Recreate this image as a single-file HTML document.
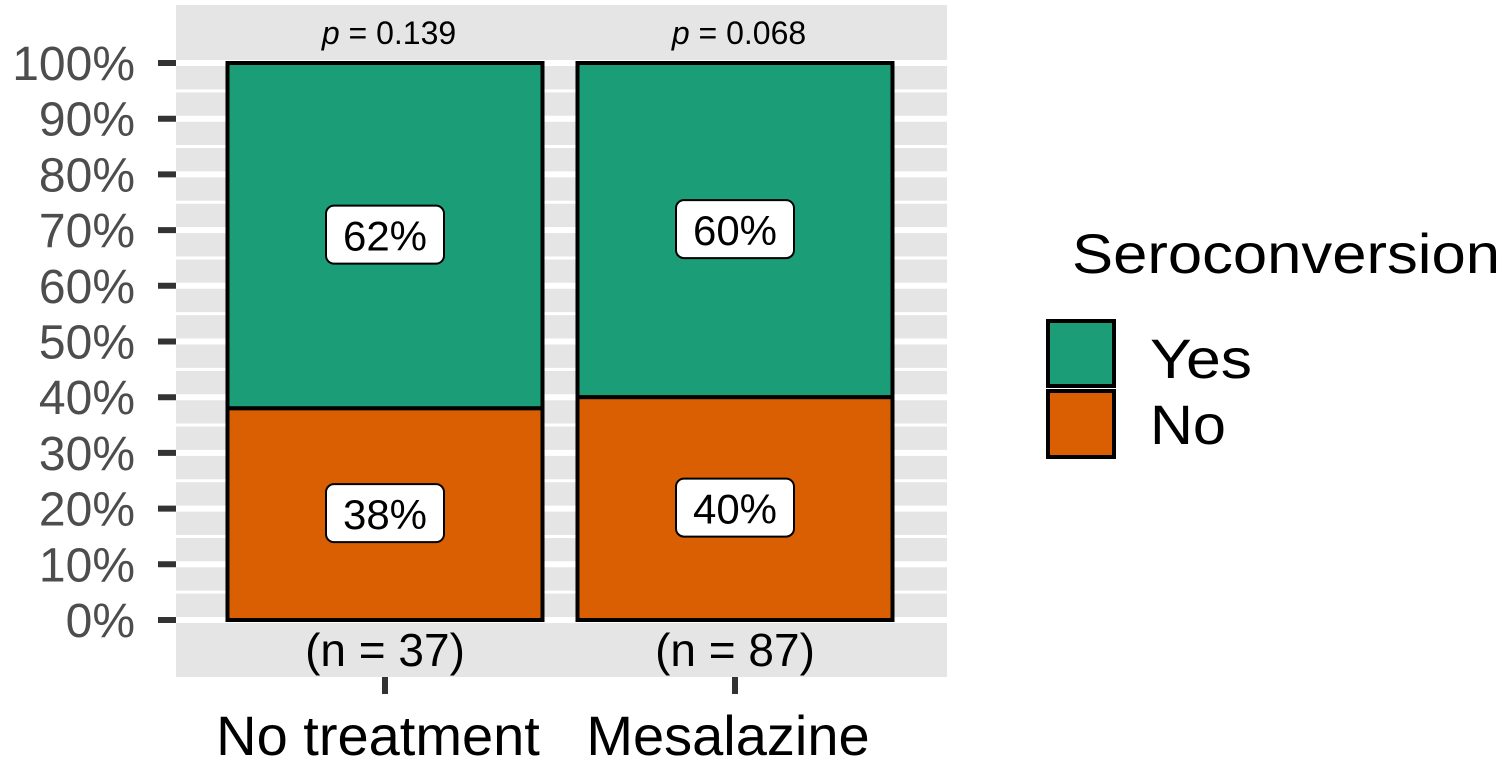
<!DOCTYPE html>
<html><head><meta charset="utf-8"><style>
body{margin:0;background:#fff;}
svg text{font-family:"Liberation Sans",sans-serif;}
</style></head><body>
<svg id="chart" width="1508" height="767">
<rect x="176" y="5" width="771" height="672" fill="#e5e5e5"/>
<g id="grid"></g><g id="yaxis"></g><g id="bars"></g><g id="xaxis"></g>
<g>
<text x="1072" y="273" font-size="56" textLength="428" lengthAdjust="spacingAndGlyphs" fill="#000">Seroconversion</text>
<rect x="1048" y="321" width="66" height="65" fill="#1b9e77" stroke="#000" stroke-width="4"/>
<rect x="1048" y="391" width="66" height="66" fill="#d95f02" stroke="#000" stroke-width="4"/>
<text x="1150" y="378" font-size="56" textLength="102" lengthAdjust="spacingAndGlyphs">Yes</text>
<text x="1150" y="444" font-size="56" textLength="76" lengthAdjust="spacingAndGlyphs">No</text>
</g>
</svg>
<script>
const categories=["No treatment","Mesalazine"];
const yesPct=[62,60];
const noPct=[38,40];
const nCounts=[37,87];
const pValues=["0.139","0.068"];
const yTicks=[0,10,20,30,40,50,60,70,80,90,100];
const NS="http://www.w3.org/2000/svg";
const y=v=>620-v*5.57;
const xc=i=>385+i*350;
const bw=315;
function mk(t,a,p){const e=document.createElementNS(NS,t);for(const k in a)e.setAttribute(k,a[k]);p.appendChild(e);return e;}
const grid=document.getElementById('grid'),ya=document.getElementById('yaxis'),bars=document.getElementById('bars'),xa=document.getElementById('xaxis');
for(let v=0;v<=100;v+=5){const l=mk('line',{x1:176,x2:947,y1:y(v),y2:y(v),stroke:'#fff','stroke-width':v%10?3:6},grid);

}
yTicks.forEach(v=>{const t=mk('line',{x1:158,x2:176,y1:y(v),y2:y(v),stroke:'#333','stroke-width':6},ya);


const tx=mk('text',{x:135,y:y(v)+17,'font-size':48,'text-anchor':'end',fill:'#4d4d4d'},ya);tx.textContent=v+'%';

});
categories.forEach((c,i)=>{const x0=xc(i)-bw/2;
const r1=mk('rect',{x:x0,y:y(100),width:bw,height:y(noPct[i])-y(100),fill:'#1b9e77',stroke:'#000','stroke-width':4},bars);


const r2=mk('rect',{x:x0,y:y(noPct[i]),width:bw,height:y(0)-y(noPct[i]),fill:'#d95f02',stroke:'#000','stroke-width':4},bars);


[[yesPct[i],(y(100)+y(noPct[i]))/2],[noPct[i],(y(noPct[i])+y(0))/2]].forEach(([val,cy])=>{
const b=mk('rect',{x:xc(i)-59,y:cy-30,width:118,height:58,rx:8,fill:'#fff',stroke:'#000','stroke-width':2},bars);


const t=mk('text',{x:xc(i),y:cy+15,'font-size':42,'text-anchor':'middle'},bars);t.textContent=val+'%';

});
const p=mk('text',{x:xc(i)+4,y:44,'font-size':32,'text-anchor':'middle'},bars);p.innerHTML='<tspan font-style="italic">p</tspan> = '+pValues[i];


const n=mk('text',{x:xc(i),y:666,'font-size':46,'text-anchor':'middle'},bars);n.textContent='(n = '+nCounts[i]+')';


const tk=mk('line',{x1:xc(i),x2:xc(i),y1:677,y2:694,stroke:'#333','stroke-width':6},xa);


const xl=mk('text',{x:xc(i)-7,y:755,'font-size':56,'text-anchor':'middle'},xa);xl.textContent=c;

});
</script>
</body></html>
